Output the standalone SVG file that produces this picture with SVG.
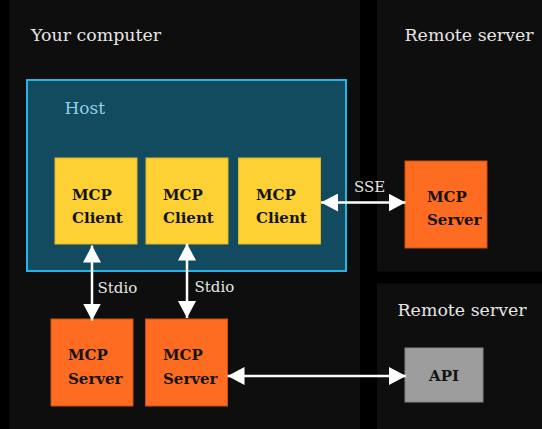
<svg xmlns="http://www.w3.org/2000/svg" width="542" height="429" viewBox="0 0 542 429">
  <style>
    .panel { fill: #0e0e0e; }
    .title { font-family: "DejaVu Serif", "Liberation Serif", serif; font-size: 17.4px; fill: #e6e6e6; }
    .host { fill: #124a60; stroke: #27b3e4; stroke-width: 2; }
    .hostlabel { font-family: "DejaVu Serif", "Liberation Serif", serif; font-size: 17px; fill: #8fd0ea; }
    .client { fill: #fdd133; stroke: #e3b524; stroke-width: 1; }
    .server { fill: #fe6c22; stroke: #c8510f; stroke-width: 1; }
    .api { fill: #9d9d9d; stroke: #858585; stroke-width: 1; }
    .nt { font-family: "DejaVu Serif", "Liberation Serif", serif; font-size: 15px; font-weight: bold; fill: #141414; }
    .conn { stroke: #ffffff; stroke-width: 2.5; fill: none; marker-start: url(#head); marker-end: url(#head); }
    .cl { font-family: "DejaVu Serif", "Liberation Serif", serif; font-size: 15px; fill: #e6e6e6; }
  </style>
  <defs>
    <marker id="head" viewBox="0 0 17 18" refX="17" refY="9" markerWidth="17" markerHeight="18" markerUnits="userSpaceOnUse" orient="auto-start-reverse">
      <path d="M0,0 L17,9 L0,18 z" fill="#ffffff"/>
    </marker>
  </defs>
  <rect width="542" height="429" fill="#000000"/>

  <g id="your-computer">
    <rect class="panel" x="9.5" y="0" width="350.5" height="429"/>
    <text class="title" x="31" y="41">Your computer</text>
  </g>
  <g id="remote-server-1">
    <rect class="panel" x="377" y="0" width="165" height="271.5"/>
    <text class="title" x="404.5" y="41">Remote server</text>
  </g>
  <g id="remote-server-2">
    <rect class="panel" x="377" y="283.5" width="165" height="145.5"/>
    <text class="title" x="397.5" y="316">Remote server</text>
  </g>

  <g id="host">
    <rect class="host" x="27" y="80" width="319" height="191"/>
    <text class="hostlabel" x="64.5" y="114">Host</text>
  </g>

  <g id="client-1">
    <rect class="client" x="55" y="158" width="82" height="86"/>
    <text class="nt" x="72" y="199.5">MCP</text>
    <text class="nt" x="72" y="223">Client</text>
  </g>
  <g id="client-2">
    <rect class="client" x="146" y="158" width="82" height="86"/>
    <text class="nt" x="163" y="199.5">MCP</text>
    <text class="nt" x="163" y="223">Client</text>
  </g>
  <g id="client-3">
    <rect class="client" x="238.5" y="158" width="82" height="86"/>
    <text class="nt" x="256" y="199.5">MCP</text>
    <text class="nt" x="256" y="223">Client</text>
  </g>

  <g id="remote-mcp-server">
    <rect class="server" x="405" y="161" width="82" height="87"/>
    <text class="nt" x="427" y="202">MCP</text>
    <text class="nt" x="427" y="225">Server</text>
  </g>
  <g id="mcp-server-1">
    <rect class="server" x="51" y="319" width="82" height="87"/>
    <text class="nt" x="68" y="360">MCP</text>
    <text class="nt" x="68" y="383.5">Server</text>
  </g>
  <g id="mcp-server-2">
    <rect class="server" x="145.5" y="319" width="82" height="87"/>
    <text class="nt" x="163" y="360">MCP</text>
    <text class="nt" x="163" y="383.5">Server</text>
  </g>
  <g id="api">
    <rect class="api" x="405" y="348" width="78" height="54"/>
    <text class="nt" x="444" y="381" text-anchor="middle">API</text>
  </g>

  <g id="connectors">
    <line class="conn" x1="92" y1="245.5" x2="92" y2="320.5"/>
    <text class="cl" x="97.5" y="293">Stdio</text>
    <line class="conn" x1="187" y1="243.5" x2="187" y2="318"/>
    <text class="cl" x="194.5" y="291.5">Stdio</text>
    <line class="conn" x1="321" y1="202.5" x2="405.5" y2="202.5"/>
    <text class="cl" x="354" y="191.5">SSE</text>
    <line class="conn" x1="227.5" y1="376" x2="406" y2="376"/>
  </g>
</svg>
